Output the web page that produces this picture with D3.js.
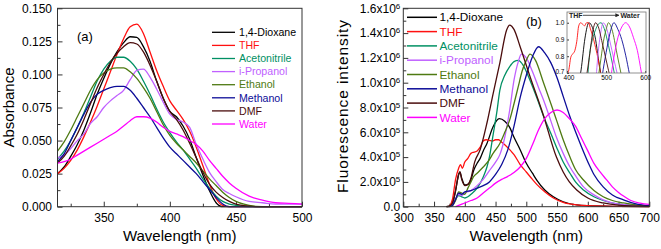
<!DOCTYPE html>
<html>
<head>
<meta charset="utf-8">
<script src="https://cdn.jsdelivr.net/npm/d3@7"></script>
<style>
  body { margin: 0; background: #fff; }
  svg { display: block; font-family: "Liberation Sans", Arial, sans-serif; }
</style>
</head>
<body>
<div id="chart"></div>
<script>
// ---- data ----
const solvents = ["1,4-Dioxane", "THF", "Acetonitrile", "i-Propanol", "Ethanol", "Methanol", "DMF", "Water"];
const colors = ["#000000", "#ff1010", "#009063", "#c060ff", "#4e7a12", "#0c0c98", "#4a0c0c", "#ff00ff"];

// (a) absorbance, common wavelength grid (nm)
const absWl = [315,320,325,330,335,340,345,350,355,360,365,370,375,380,385,390,395,400,405,410,415,420,425,430,435,440,445,450,460,470,480,490,500];
const absDioxane = [.025,.030,.038,.047,.058,.071,.085,.097,.108,.117,.124,.1285,.128,.121,.110,.095,.082,.072,.068,.061,.051,.037,.024,.012,.003,0,0,0,0,0,0,0,0];
const absTHF = [.025,.029,.035,.043,.053,.064,.076,.089,.102,.115,.127,.136,.138,.131,.117,.103,.091,.080,.073,.066,.057,.045,.031,.017,.006,.001,0,0,0,0,0,0,0];
const absAcetonitrile = [.036,.042,.050,.060,.071,.083,.095,.104,.110,.113,.113,.110,.104,.095,.085,.074,.064,.056,.049,.043,.036,.029,.021,.014,.008,.004,.002,.001,0,0,0,0,0];
const absPropanol = [.037,.039,.044,.050,.055,.063,.068,.075,.080,.084,.088,.096,.103,.104,.098,.089,.079,.070,.066,.064,.060,.047,.036,.026,.019,.013,.010,.0075,.004,.003,.002,.002,.002];
const absEthanol = [.042,.049,.058,.068,.078,.088,.096,.101,.104,.105,.105,.102,.097,.090,.082,.072,.062,.054,.048,.043,.038,.033,.027,.021,.016,.011,.007,.004,.001,0,0,0,0];
const absMethanol = [.034,.040,.050,.060,.070,.079,.085,.088,.090,.091,.091,.088,.082,.075,.068,.060,.052,.045,.040,.035,.030,.025,.019,.013,.007,.002,0,0,0,0,0,0,0];
const absDMF = [.033,.038,.046,.055,.066,.078,.090,.100,.109,.116,.121,.124,.123,.117,.107,.095,.082,.072,.066,.058,.048,.037,.026,.017,.011,.007,.004,.002,.0005,0,0,0,0];
const absWater = [.033,.034,.036,.039,.042,.045,.048,.051,.054,.057,.061,.065,.068,.068,.067,.064,.060,.057,.055,.053,.050,.047,.042,.035,.029,.023,.018,.014,.008,.005,.003,.0025,.002];
const absSeries = [absDioxane, absTHF, absAcetonitrile, absPropanol, absEthanol, absMethanol, absDMF, absWater];

// (b) fluorescence, [wavelength nm, intensity in 1e5]
const flDioxane = [[370,0],[375,0.05],[380,0.3],[385,1.3],[390,2.6],[392,2.8],[395,2.3],[400,1.75],[405,1.8],[410,2.2],[415,3.0],[420,3.5],[425,3.9],[430,4.5],[436,5.1],[446,6.45],[456,7.1],[465,6.9],[473,6.4],[480,5.6],[490,4.6],[500,3.5],[510,2.7],[517,2.15],[530,1.35],[544,0.8],[560,0.4],[582,0.15],[600,0.08],[650,0.02],[700,0]];
const flTHF = [[375,0],[380,0.6],[385,2.2],[390,3.1],[393,3.4],[396,3.1],[400,3.6],[405,3.9],[410,4.3],[415,4.4],[420,4.5],[425,4.8],[430,5.3],[435,5.4],[440,5.35],[445,5.3],[450,5.4],[455,5.4],[460,5.2],[465,5.0],[473,4.6],[480,4.2],[490,3.4],[500,2.8],[510,2.2],[517,1.8],[530,1.2],[544,0.7],[560,0.35],[582,0.15],[600,0.08],[650,0.02],[700,0]];
const flAcetonitrile = [[375,0],[380,0.2],[385,0.6],[390,0.9],[395,0.8],[400,0.7],[405,0.8],[410,1.0],[420,1.5],[430,2.4],[436,3.2],[440,4.0],[446,5.8],[452,7.6],[457,9.4],[465,10.6],[473,11.3],[480,11.7],[487,11.8],[495,11.4],[506,10.2],[517,8.8],[528,7.3],[540,5.9],[550,4.7],[560,3.6],[571,2.7],[580,2.0],[593,1.35],[610,0.8],[625,0.5],[650,0.2],[700,0.05]];
const flPropanol = [[375,0],[380,0.2],[385,0.6],[390,1.0],[395,0.9],[400,1.1],[410,1.3],[420,1.7],[430,2.2],[440,2.9],[450,3.6],[457,4.2],[465,5.6],[473,7.8],[480,10.2],[487,11.7],[492,12.3],[500,12.0],[510,10.9],[520,9.6],[528,8.6],[540,6.9],[549,5.6],[560,4.3],[571,3.2],[580,2.5],[593,1.6],[610,0.95],[625,0.55],[650,0.2],[700,0.05]];
const flEthanol = [[375,0],[380,0.1],[385,0.5],[390,1.2],[395,1.1],[400,1.0],[405,1.5],[410,2.0],[414,2.4],[420,2.7],[430,3.2],[440,3.8],[446,4.3],[457,5.1],[465,6.0],[473,7.0],[480,8.3],[487,9.7],[493,10.9],[500,11.8],[506,12.3],[515,11.8],[528,10.0],[540,8.3],[549,7.0],[560,5.4],[571,4.0],[580,3.0],[593,2.15],[610,1.3],[625,0.8],[640,0.5],[658,0.3],[680,0.12],[700,0.05]];
const flMethanol = [[375,0],[380,0.1],[385,0.6],[390,1.1],[395,1.0],[400,1.2],[410,1.3],[420,1.5],[430,1.7],[440,2.0],[450,2.6],[460,3.4],[470,4.6],[480,6.5],[490,8.8],[500,10.6],[510,12.1],[520,12.9],[530,12.4],[540,11.6],[550,10.4],[560,8.9],[570,7.4],[582,5.8],[590,4.8],[603,3.3],[610,2.6],[625,1.6],[640,0.95],[658,0.55],[680,0.2],[700,0.08]];
const flDMF = [[370,0],[375,0.05],[380,0.3],[385,1.3],[390,2.6],[392,2.8],[395,2.2],[400,1.7],[405,1.8],[410,2.3],[416,3.6],[425,4.6],[436,6.75],[446,9.1],[457,11.6],[468,14.25],[473,14.65],[480,14.3],[490,12.9],[506,10.5],[527,7.5],[549,4.0],[560,2.8],[570,2.0],[582,1.35],[600,0.7],[625,0.3],[650,0.12],[700,0.02]];
const flWater = [[385,0],[390,0.1],[400,0.3],[410,0.5],[420,0.7],[430,1.1],[440,1.5],[450,1.9],[460,2.2],[470,2.45],[480,2.75],[490,3.2],[500,3.9],[510,5.0],[520,6.2],[530,7.1],[540,7.6],[550,7.8],[560,7.6],[570,7.1],[580,6.5],[590,5.5],[600,4.5],[610,3.5],[620,2.8],[630,2.2],[640,1.6],[650,1.15],[660,0.8],[670,0.5],[685,0.28],[700,0.18]];
const flSeries = [flDioxane, flTHF, flAcetonitrile, flPropanol, flEthanol, flMethanol, flDMF, flWater];

const absTicks = [0, 0.025, 0.05, 0.075, 0.1, 0.125, 0.15];
const flTicks = [0, 2, 4, 6, 8, 10, 12, 14, 16];

// ---- setup ----
const width = 661, height = 249;
const svg = d3.select("#chart").append("svg")
  .attr("width", width)
  .attr("height", height);

const frameColor = "#333";

function styleAxis(g, size) {
  g.attr("font-size", size).attr("font-family", null).attr("color", frameColor);
  g.select(".domain").remove();
  g.selectAll(".tick text").attr("fill", "#000");
}

// ================= panel (a) =================
const pa = { left: 57.5, right: 302, top: 8.3, bottom: 206.7 };
const xA = d3.scaleLinear().domain([315, 500]).range([pa.left, pa.right]);
const yA = d3.scaleLinear().domain([0, 0.15]).range([pa.bottom, pa.top]);

svg.append("g").attr("transform", `translate(0,${pa.bottom})`)
  .call(d3.axisBottom(xA).tickValues([350, 400, 450, 500]).tickSize(-5).tickPadding(7))
  .call(g => styleAxis(g, 12));
svg.append("g").attr("transform", `translate(0,${pa.bottom})`)
  .call(d3.axisBottom(xA).tickValues([325, 375, 425, 475]).tickSize(-3).tickFormat(""))
  .call(g => styleAxis(g, 12));
svg.append("g").attr("transform", `translate(${pa.left},0)`)
  .call(d3.axisLeft(yA).tickValues(absTicks).tickSize(-5).tickPadding(5.5).tickFormat(d3.format(".3f")))
  .call(g => styleAxis(g, 12));
svg.append("g").attr("transform", `translate(${pa.left},0)`)
  .call(d3.axisLeft(yA).tickValues(d3.range(0.0125, 0.15, 0.025)).tickSize(-3).tickFormat(""))
  .call(g => styleAxis(g, 12));

const lineA = d3.line()
  .x((d, i) => xA(absWl[i]))
  .y(d => yA(d))
  .curve(d3.curveMonotoneX);

svg.append("g")
  .selectAll("path")
  .data(absSeries)
  .join("path")
    .attr("d", lineA)
    .attr("fill", "none")
    .attr("stroke", (d, i) => colors[i])
    .attr("stroke-width", 1.3);

svg.append("rect")
  .attr("x", pa.left).attr("y", pa.top)
  .attr("width", pa.right - pa.left).attr("height", pa.bottom - pa.top)
  .attr("fill", "none").attr("stroke", frameColor).attr("stroke-width", 1);

// legend (a)
const legA = svg.append("g");
legA.selectAll("line")
  .data(solvents)
  .join("line")
    .attr("x1", 212).attr("x2", 235)
    .attr("y1", (d, i) => 32.3 + i * 13.1)
    .attr("y2", (d, i) => 32.3 + i * 13.1)
    .attr("stroke", (d, i) => colors[i])
    .attr("stroke-width", 1.3);
legA.selectAll("text")
  .data(solvents)
  .join("text")
    .attr("x", 239)
    .attr("y", (d, i) => 32.3 + i * 13.1)
    .attr("dy", "0.35em")
    .attr("font-size", 10.6)
    .attr("fill", (d, i) => colors[i])
    .text(d => d);

svg.append("text").attr("x", 77).attr("y", 40.6).attr("font-size", 13).text("(a)");

svg.append("text")
  .attr("transform", `translate(14,${(pa.top + pa.bottom) / 2}) rotate(-90)`)
  .attr("text-anchor", "middle")
  .attr("font-size", 15)
  .text("Absorbance");
svg.append("text")
  .attr("x", (pa.left + pa.right) / 2).attr("y", 241)
  .attr("text-anchor", "middle")
  .attr("font-size", 15)
  .text("Wavelength (nm)");

// ================= panel (b) =================
const pb = { left: 403.3, right: 649.3, top: 8.3, bottom: 206.7 };
const xB = d3.scaleLinear().domain([300, 700]).range([pb.left, pb.right]);
const yB = d3.scaleLinear().domain([0, 16]).range([pb.bottom, pb.top]);

svg.append("g").attr("transform", `translate(0,${pb.bottom})`)
  .call(d3.axisBottom(xB).tickValues(d3.range(300, 701, 50)).tickSize(-5).tickPadding(7))
  .call(g => styleAxis(g, 12));
svg.append("g").attr("transform", `translate(0,${pb.bottom})`)
  .call(d3.axisBottom(xB).tickValues(d3.range(325, 700, 50)).tickSize(-3).tickFormat(""))
  .call(g => styleAxis(g, 12));
svg.append("g").attr("transform", `translate(${pb.left},0)`)
  .call(d3.axisLeft(yB).tickValues(flTicks).tickSize(-5).tickPadding(3).tickFormat(""))
  .call(g => styleAxis(g, 12))
  .call(g => g.selectAll(".tick text").each(function(d) {
    const t = d3.select(this);
    if (d === 0) { t.text("0.0"); return; }
    const e = d >= 10 ? 6 : 5;
    const m = d >= 10 ? d / 10 : d;
    t.text(m.toFixed(1) + "x10");
    t.append("tspan").attr("dy", "-0.5em").attr("font-size", 8).text(e);
  }));
svg.append("g").attr("transform", `translate(${pb.left},0)`)
  .call(d3.axisLeft(yB).tickValues(d3.range(1, 16, 2)).tickSize(-3).tickFormat(""))
  .call(g => styleAxis(g, 12));

const lineB = d3.line()
  .x(d => xB(d[0]))
  .y(d => yB(d[1]))
  .curve(d3.curveMonotoneX);

svg.append("g")
  .selectAll("path")
  .data(flSeries)
  .join("path")
    .attr("d", lineB)
    .attr("fill", "none")
    .attr("stroke", (d, i) => colors[i])
    .attr("stroke-width", 1.3);

svg.append("rect")
  .attr("x", pb.left).attr("y", pb.top)
  .attr("width", pb.right - pb.left).attr("height", pb.bottom - pb.top)
  .attr("fill", "none").attr("stroke", frameColor).attr("stroke-width", 1);

// legend (b)
const legB = svg.append("g");
legB.selectAll("line")
  .data(solvents)
  .join("line")
    .attr("x1", 407).attr("x2", 437)
    .attr("y1", (d, i) => 17.3 + i * 14.3)
    .attr("y2", (d, i) => 17.3 + i * 14.3)
    .attr("stroke", (d, i) => colors[i])
    .attr("stroke-width", 1.5);
legB.selectAll("text")
  .data(solvents)
  .join("text")
    .attr("x", 439.5)
    .attr("y", (d, i) => 17.3 + i * 14.3)
    .attr("dy", "0.35em")
    .attr("font-size", 11.8)
    .attr("fill", (d, i) => colors[i])
    .text(d => d);

svg.append("text").attr("x", 526).attr("y", 25.6).attr("font-size", 13).text("(b)");

svg.append("text")
  .attr("transform", `translate(348,106.5) rotate(-90)`)
  .attr("text-anchor", "middle")
  .attr("font-size", 15.5)
  .attr("textLength", 173)
  .attr("lengthAdjust", "spacing")
  .text("Fluorescence intensity");
svg.append("text")
  .attr("x", (pb.left + pb.right) / 2).attr("y", 241)
  .attr("text-anchor", "middle")
  .attr("font-size", 15)
  .text("Wavelength (nm)");

// ---- inset: normalized spectra ----
const pi = { left: 567, right: 646, top: 12, bottom: 73 };
const xI = d3.scaleLinear().domain([400, 602]).range([pi.left, pi.right]);
const yI = d3.scaleLinear().domain([0.7, 1.064]).range([pi.bottom, pi.top]);

svg.append("rect")
  .attr("x", pi.left).attr("y", pi.top)
  .attr("width", pi.right - pi.left).attr("height", pi.bottom - pi.top)
  .attr("fill", "#fff");

svg.append("clipPath").attr("id", "insetClip")
  .append("rect")
  .attr("x", pi.left).attr("y", pi.top)
  .attr("width", pi.right - pi.left).attr("height", pi.bottom - pi.top);

const lineI = d3.line()
  .x(d => xI(d[0]))
  .y(d => yI(d[1]))
  .curve(d3.curveMonotoneX);

const normSeries = flSeries.map(s => {
  const m = d3.max(s, d => d[1]);
  return s.map(d => [d[0], d[1] / m]);
});

svg.append("g")
  .attr("clip-path", "url(#insetClip)")
  .selectAll("path")
  .data(normSeries)
  .join("path")
    .attr("d", lineI)
    .attr("fill", "none")
    .attr("stroke", (d, i) => colors[i])
    .attr("stroke-width", 0.9);

svg.append("g").attr("transform", `translate(0,${pi.bottom})`)
  .call(d3.axisBottom(xI).tickValues([400, 500, 600]).tickSize(-2).tickPadding(2.5))
  .call(g => styleAxis(g, 6.5))
  .call(g => g.selectAll(".tick text").attr("dx", (d, i) => i === 0 ? 1.5 : 0));
svg.append("g").attr("transform", `translate(${pi.left},0)`)
  .call(d3.axisLeft(yI).tickValues([0.7, 0.8, 0.9, 1.0]).tickSize(-2).tickPadding(2.5).tickFormat(d3.format(".1f")))
  .call(g => styleAxis(g, 6.5))
  .call(g => g.selectAll(".tick text").attr("dy", d => d === 0.7 ? "0.05em" : "0.32em"));

svg.append("rect")
  .attr("x", pi.left).attr("y", pi.top)
  .attr("width", pi.right - pi.left).attr("height", pi.bottom - pi.top)
  .attr("fill", "none").attr("stroke", "#777").attr("stroke-width", 0.8);

svg.append("defs").append("marker")
  .attr("id", "arrow")
  .attr("viewBox", "0 0 10 10")
  .attr("refX", 9).attr("refY", 5)
  .attr("markerWidth", 5).attr("markerHeight", 5)
  .attr("orient", "auto")
  .append("path").attr("d", "M0,0L10,5L0,10z").attr("fill", "#222");

svg.append("text").attr("x", 569).attr("y", 17.8).attr("font-size", 7).attr("font-weight", "bold").attr("fill", "#222").text("THF");
svg.append("line")
  .attr("x1", 583).attr("x2", 619).attr("y1", 15.3).attr("y2", 15.3)
  .attr("stroke", "#222").attr("stroke-width", 0.8)
  .attr("marker-end", "url(#arrow)");
svg.append("text").attr("x", 620.5).attr("y", 17.8).attr("font-size", 7).attr("font-weight", "bold").attr("fill", "#222").text("Water");
</script>
</body>
</html>
